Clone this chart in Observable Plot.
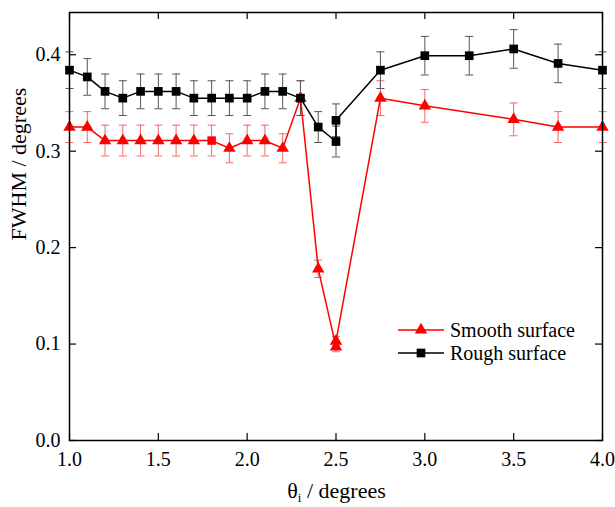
<!DOCTYPE html>
<html><head><meta charset="utf-8">
<script src="https://cdn.jsdelivr.net/npm/d3@7"></script>
<script src="https://cdn.jsdelivr.net/npm/@observablehq/plot@0.6"></script>
<style>
body{margin:0;background:#fff;}
#wrap{width:615px;height:507px;}
#wrap svg, #wrap svg text{font-family:"Liberation Serif","Times New Roman",serif !important;}
</style></head><body><div id="wrap"></div>
<script>
// ---- data ----
const roughX   = [1.0,1.1,1.2,1.3,1.4,1.5,1.6,1.7,1.8,1.9,2.0,2.1,2.2,2.3,2.4,2.5,2.5,2.75,3.0,3.25,3.5,3.75,4.0];
const roughY   = [0.384,0.377,0.362,0.355,0.362,0.362,0.362,0.355,0.355,0.355,0.355,0.362,0.362,0.355,0.325,0.310,0.332,0.384,0.399,0.399,0.406,0.391,0.384];
const roughErr = [0.019,0.019,0.018,0.018,0.018,0.018,0.018,0.018,0.018,0.018,0.018,0.018,0.018,0.018,0.016,0.016,0.017,0.019,0.020,0.020,0.020,0.020,0.019];

const smoothX   = [1.0,1.1,1.2,1.3,1.4,1.5,1.6,1.7,1.8,1.9,2.0,2.1,2.2,2.3,2.4,2.5,2.5,2.75,3.0,3.5,3.75,4.0];
const smoothY   = [0.325,0.325,0.311,0.311,0.311,0.311,0.311,0.311,0.311,0.303,0.311,0.311,0.303,0.355,0.178,0.097,0.103,0.355,0.347,0.333,0.325,0.325];
const smoothErr = [0.016,0.016,0.016,0.016,0.016,0.016,0.016,0.016,0.016,0.015,0.016,0.016,0.015,0.018,0.009,0.005,0.005,0.018,0.017,0.017,0.016,0.016];
const smoothMarker = ["triangle","triangle","triangle","triangle","triangle","triangle","triangle","triangle","square","triangle","triangle","triangle","triangle","triangle","triangle","triangle","triangle","triangle","triangle","triangle","triangle","triangle"];

const xTicks = [1.0,1.5,2.0,2.5,3.0,3.5,4.0];
const yTicks = [0.0,0.1,0.2,0.3,0.4];
const seriesNames = ["Smooth surface","Rough surface"];
const xTitle = ["θ","i"," / degrees"];
const yTitle = "FWHM / degrees";

// ---- build tables ----
const rough = roughX.map((x,i)=>({x, y: roughY[i], e: roughErr[i]}));
const smooth = smoothX.map((x,i)=>({x, y: smoothY[i], e: smoothErr[i], m: smoothMarker[i]}));

const SERIF = "Liberation Serif, Times New Roman, serif";
const RED = "#ff0000", RED_ERR = "#f06a6a", BLACK = "#000000", BLACK_ERR = "#555555";
const W = 615, H = 507, mT = 12, mB = 67, mL = 69, mR = 13;
const plotH = H - mT - mB, plotW = W - mL - mR, tick = 7;

const cap = { draw(ctx, size){ const r = Math.sqrt(size/Math.PI); ctx.moveTo(-r,0); ctx.lineTo(r,0); } };

function errMarks(data, color){
  return [
    Plot.ruleX(data, {x:"x", y1: d=>d.y-d.e, y2: d=>d.y+d.e, stroke: color, strokeWidth: 1}),
    Plot.dot(data, {x:"x", y: d=>d.y+d.e, symbol: cap, r: 4, stroke: color, fill: "none", strokeWidth: 1}),
    Plot.dot(data, {x:"x", y: d=>d.y-d.e, symbol: cap, r: 4, stroke: color, fill: "none", strokeWidth: 1})
  ];
}

const plot = Plot.plot({
  width: W, height: H,
  marginTop: mT, marginBottom: mB, marginLeft: mL, marginRight: mR,
  style: {fontFamily: SERIF, fontSize: "20px", color: "black", background: "white"},
  x: {domain: [1, 4]},
  y: {domain: [0, 0.4438]},
  marks: [
    // inward ticks
    Plot.tickX(xTicks, {x: d=>d, insetTop: plotH - tick, stroke: "black", strokeWidth: 1.2}),
    Plot.tickX(xTicks, {x: d=>d, insetBottom: plotH - tick, stroke: "black", strokeWidth: 1.2}),
    Plot.tickY(yTicks, {y: d=>d, insetRight: plotW - tick, stroke: "black", strokeWidth: 1.2}),
    Plot.tickY(yTicks, {y: d=>d, insetLeft: plotW - tick, stroke: "black", strokeWidth: 1.2}),
    Plot.axisX({ticks: xTicks, tickSize: 0, tickPadding: 11, tickFormat: d3.format(".1f"), label: null, fontFamily: SERIF, fontSize: 20}),
    Plot.axisY({ticks: yTicks, tickSize: 0, tickPadding: 9, tickFormat: d3.format(".1f"), label: null, fontFamily: SERIF, fontSize: 20}),
    ...errMarks(smooth, RED_ERR),
    ...errMarks(rough, BLACK_ERR),
    Plot.line(smooth, {x:"x", y:"y", stroke: RED, strokeWidth: 1.5}),
    Plot.dot(smooth.filter(d=>d.m==="triangle"), {x:"x", y:"y", symbol: "triangle", r: 4.6, fill: RED, stroke: "none"}),
    Plot.dot(smooth.filter(d=>d.m==="square"), {x:"x", y:"y", symbol: "square", r: 4.8, fill: RED, stroke: "none"}),
    Plot.line(rough, {x:"x", y:"y", stroke: BLACK, strokeWidth: 1.5}),
    Plot.dot(rough, {x:"x", y:"y", symbol: "square", r: 4.9, fill: BLACK, stroke: "none"}),
    Plot.frame({stroke: "black", strokeWidth: 1.5}),
    Plot.text([yTitle], {text: d=>d, frameAnchor: "left", rotate: -90, dx: -51, dy: 14, fontSize: 22, fontFamily: SERIF, fill: "black"})
  ]
});
document.getElementById("wrap").appendChild(plot);

// x title with subscript
const svg = d3.select(plot);
const xt = svg.append("text")
  .attr("x", (mL + W - mR)/2 + 1).attr("y", 498)
  .attr("text-anchor", "middle").attr("font-family", SERIF)
  .attr("font-size", 22).attr("fill", "black");
xt.append("tspan").text(xTitle[0]);
xt.append("tspan").attr("font-size", 13).attr("dy", 4).text(xTitle[1]);
xt.append("tspan").attr("dy", -4).text(xTitle[2]);

// legend
const legend = svg.append("g").attr("font-size", 20).attr("font-family", SERIF).attr("fill", "black").attr("text-anchor", "start");
const legendRows = [
  {name: seriesNames[0], color: RED, sym: d3.symbolTriangle, size: 4.6*4.6*Math.PI, y: 330},
  {name: seriesNames[1], color: BLACK, sym: d3.symbolSquare, size: 4.9*4.9*Math.PI, y: 353}
];
legendRows.forEach(r=>{
  legend.append("line").attr("x1", 398).attr("x2", 444).attr("y1", r.y).attr("y2", r.y)
    .attr("stroke", r.color).attr("stroke-width", 1.5);
  legend.append("path").attr("d", d3.symbol(r.sym, r.size)()).attr("transform", `translate(421,${r.y})`)
    .attr("fill", r.color);
  legend.append("text").attr("x", 450).attr("y", r.y).attr("dy", "0.34em").attr("text-anchor", "start").text(r.name);
});
</script></body></html>
